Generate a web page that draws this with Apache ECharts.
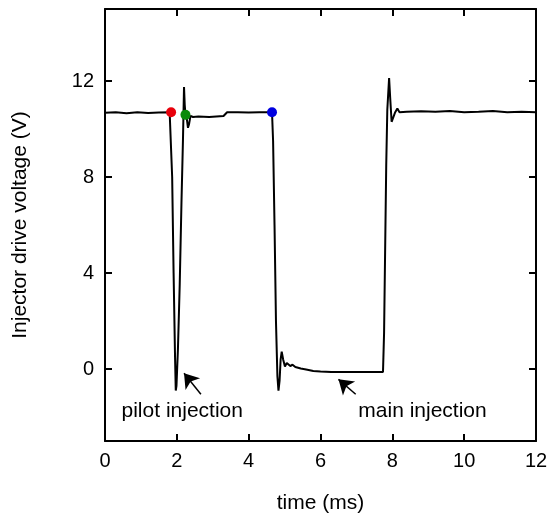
<!DOCTYPE html>
<html>
<head>
<meta charset="utf-8">
<script src="https://cdn.jsdelivr.net/npm/echarts@6/dist/echarts.min.js"></script>
<style>html,body{margin:0;padding:0;background:#fff}#c{width:551px;height:522px}</style>
</head>
<body>
<div id="c"></div>
<script>
// time (ms)
const timeMs = [0,0.3,0.6,0.9,1.2,1.5,1.8,1.84,1.87,1.91,1.95,1.97,1.99,2.03,2.08,2.13,2.17,2.20,2.22,2.24,2.28,2.31,2.34,2.38,2.45,2.6,2.9,3.1,3.3,3.4,3.7,4.0,4.3,4.65,
  4.68,4.72,4.76,4.80,4.83,4.86,4.89,4.92,4.96,5.01,5.06,5.10,5.16,5.22,5.3,5.45,5.6,5.8,6.0,6.3,6.6,6.9,7.2,7.5,7.74,
  7.77,7.80,7.83,7.86,7.91,7.94,7.98,8.02,8.08,8.14,8.2,8.4,8.8,9.2,9.6,10.0,10.4,10.8,11.2,11.6,12];
// injector drive voltage (V)
const voltage = [10.68,10.70,10.66,10.70,10.67,10.69,10.70,10.70,8.0,4.0,0.5,-0.9,-0.7,0.8,3.5,7.0,9.5,11.75,11.0,10.59,10.4,10.05,10.2,10.55,10.5,10.52,10.5,10.52,10.54,10.70,10.70,10.69,10.70,10.70,
  9.5,6.0,2.0,-0.3,-0.9,-0.5,0.4,0.72,0.4,0.1,0.25,0.28,0.12,0.18,0.08,0.02,-0.02,-0.08,-0.1,-0.12,-0.13,-0.12,-0.12,-0.12,-0.12,
  1.5,5.0,8.5,10.8,12.12,11.3,10.3,10.3,10.7,10.85,10.7,10.72,10.74,10.72,10.75,10.70,10.72,10.75,10.70,10.72,10.7];
// marked points
const markTime = [1.84, 2.24, 4.65];
const markVolt = [10.70, 10.59, 10.70];
const markColors = ['#e8000b', '#0a8a0a', '#0000e0'];
// annotations
const annoText = ['pilot injection', 'main injection'];
const annoPos = [[2.15, -1.76], [8.84, -1.76]];
const arrowFrom = [[2.67, -1.05], [6.98, -1.05]];
const arrowTo = [[2.2, -0.18], [6.5, -0.43]];
const xTicks = [0,2,4,6,8,10,12];
const yTicks = [0,4,8,12];

const font = 'Liberation Sans, Arial, sans-serif';
const chart = echarts.init(document.getElementById('c'), null, {renderer: 'canvas'});
const axLine = {show: true, onZero: false, lineStyle: {color: '#000', width: 2}};
const mkTick = (vals) => ({show: true, inside: true, length: 7, customValues: vals, lineStyle: {color: '#000', width: 2}});
chart.setOption({
  animation: false,
  grid: {left: 105, right: 15, top: 9, bottom: 81},
  xAxis: [
    {type: 'value', min: 0, max: 12, interval: 2, position: 'bottom',
     axisLine: axLine, axisTick: mkTick(xTicks), splitLine: {show: false},
     axisLabel: {customValues: xTicks, color: '#000', fontSize: 20, fontFamily: font, margin: 10},
     name: 'time (ms)', nameLocation: 'middle', nameGap: 52,
     nameTextStyle: {color: '#000', fontSize: 21, fontFamily: font}},
    {type: 'value', min: 0, max: 12, interval: 2, position: 'top',
     axisLine: axLine, axisTick: mkTick(xTicks), splitLine: {show: false}, axisLabel: {show: false}}
  ],
  yAxis: [
    {type: 'value', min: -3, max: 15, interval: 1, position: 'left',
     axisLine: axLine, axisTick: mkTick(yTicks), splitLine: {show: false},
     axisLabel: {customValues: yTicks, color: '#000', fontSize: 20, fontFamily: font, margin: 11},
     name: 'Injector drive voltage (V)', nameLocation: 'middle', nameGap: 74,
     nameTextStyle: {color: '#000', fontSize: 21, fontFamily: font}},
    {type: 'value', min: -3, max: 15, interval: 1, position: 'right',
     axisLine: axLine, axisTick: mkTick(yTicks), splitLine: {show: false}, axisLabel: {show: false}}
  ],
  series: [
    {type: 'line', xAxisIndex: 0, yAxisIndex: 0, showSymbol: false, symbol: 'none',
     lineStyle: {color: '#000', width: 2},
     data: timeMs.map((t, i) => [t, voltage[i]]),
     markLine: {
       silent: true, symbol: ['none', 'arrow'], symbolSize: 14,
       lineStyle: {color: '#000', width: 1.5, type: 'solid', opacity: 1}, label: {show: false},
       data: arrowFrom.map((f, i) => [{coord: f}, {coord: arrowTo[i]}])
     }},
    {type: 'scatter', xAxisIndex: 0, yAxisIndex: 0, symbolSize: 10, z: 5,
     data: markTime.map((t, i) => ({value: [t, markVolt[i]], itemStyle: {color: markColors[i], opacity: 1}}))},
    {type: 'scatter', xAxisIndex: 0, yAxisIndex: 0, symbolSize: 0, silent: true,
     itemStyle: {opacity: 1},
     data: annoPos.map((p, i) => ({value: p, name: annoText[i]})),
     label: {show: true, position: 'inside', formatter: p => p.name, color: '#000', opacity: 1, fontSize: 21, fontFamily: font}}
  ]
});
</script>
</body>
</html>
